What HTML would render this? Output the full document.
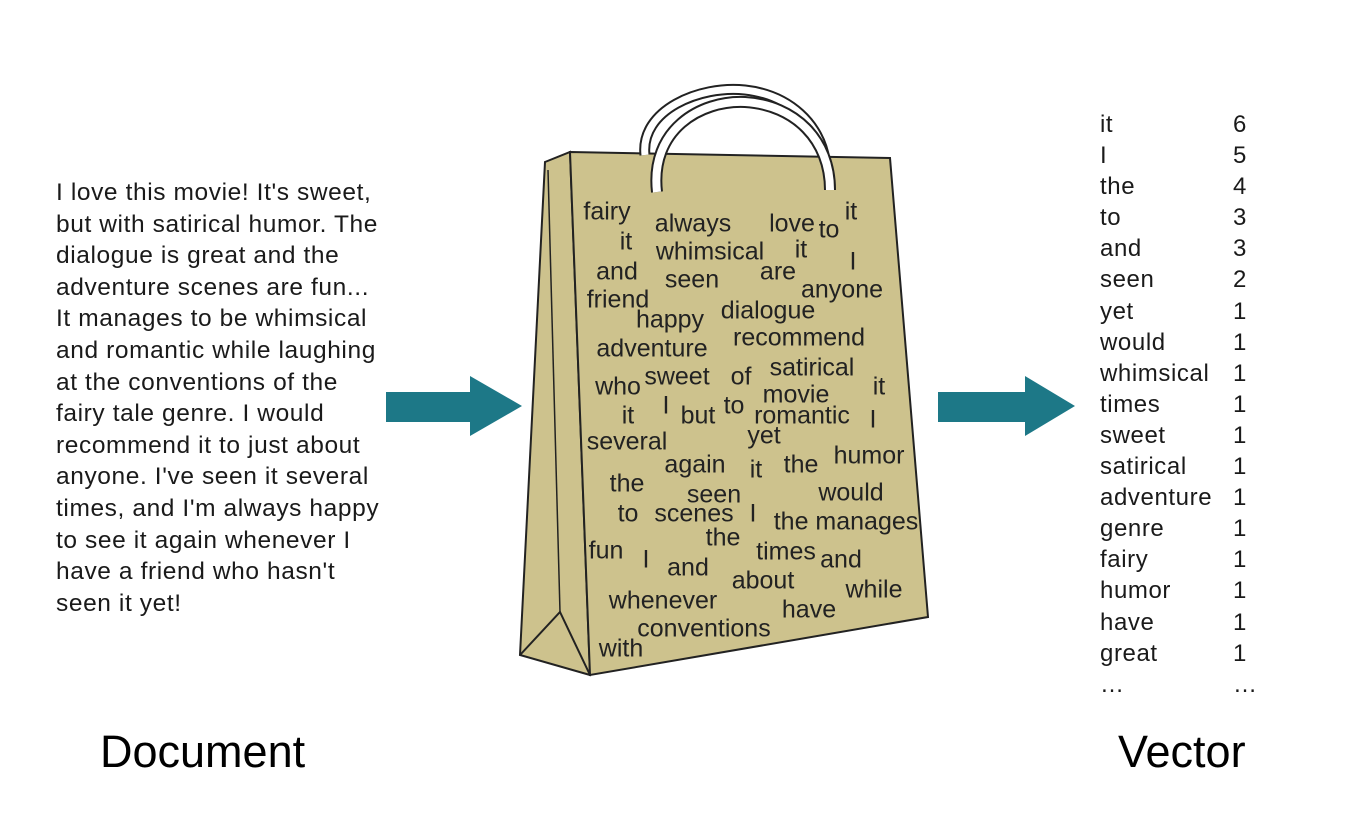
<!DOCTYPE html>
<html><head><meta charset="utf-8"><style>
body{margin:0;width:1348px;height:814px;background:#fff;position:relative;overflow:hidden;font-family:"Liberation Sans",Arial,sans-serif;color:#1a1a1a}
.doc{position:absolute;left:56px;top:177px;font-size:24.5px;letter-spacing:0.6px;line-height:31.6px;white-space:pre}
.w{position:absolute;font-size:25px;transform:translate(-50%,-50%);white-space:nowrap;color:#222;line-height:1}
.v{position:absolute;font-size:24px;letter-spacing:0.6px;line-height:31.1px}
.big{position:absolute;font-size:45px;color:#000}
</style></head><body>
<div class="doc">I love this movie! It's sweet,
but with satirical humor. The
dialogue is great and the
adventure scenes are fun...
It manages to be whimsical
and romantic while laughing
at the conventions of the
fairy tale genre. I would
recommend it to just about
anyone. I've seen it several
times, and I'm always happy
to see it again whenever I
have a friend who hasn't
seen it yet!</div>
<svg width="1348" height="814" style="position:absolute;left:0;top:0">
<polygon points="386,392 470,392 470,376 522,406 470,436 470,422 386,422" fill="#1d7887"/>
<polygon points="938,392 1025,392 1025,376 1075,406 1025,436 1025,422 938,422" fill="#1d7887"/>
<polygon points="545,162 570,152 590,675 520,655" fill="#cdc28d" stroke="#222" stroke-width="2"/>
<polyline points="520,655 560,612 590,675" fill="none" stroke="#222" stroke-width="2"/>
<line x1="560" y1="612" x2="548" y2="170" stroke="#222" stroke-width="1.5"/>
<polygon points="570,152 890,158 928,617 590,675" fill="#cdc28d" stroke="#222" stroke-width="2"/>
<path d="M645,155 C640,110 700,85 745,90 C790,95 820,125 825,160" fill="none" stroke="#222" stroke-width="11"/>
<path d="M645,155 C640,110 700,85 745,90 C790,95 820,125 825,160" fill="none" stroke="#fff" stroke-width="7"/>
<path d="M657,192 C650,130 700,100 745,102 C795,105 830,140 830,190" fill="none" stroke="#222" stroke-width="12"/>
<path d="M657,192 C650,130 700,100 745,102 C795,105 830,140 830,190" fill="none" stroke="#fff" stroke-width="8"/>
</svg>
<div class="w" style="left:607px;top:212px">fairy</div>
<div class="w" style="left:693px;top:224px">always</div>
<div class="w" style="left:792px;top:224px">love</div>
<div class="w" style="left:829px;top:230px">to</div>
<div class="w" style="left:851px;top:212px">it</div>
<div class="w" style="left:626px;top:242px">it</div>
<div class="w" style="left:710px;top:252px">whimsical</div>
<div class="w" style="left:801px;top:250px">it</div>
<div class="w" style="left:853px;top:262px">I</div>
<div class="w" style="left:617px;top:272px">and</div>
<div class="w" style="left:692px;top:280px">seen</div>
<div class="w" style="left:778px;top:272px">are</div>
<div class="w" style="left:842px;top:290px">anyone</div>
<div class="w" style="left:618px;top:300px">friend</div>
<div class="w" style="left:670px;top:320px">happy</div>
<div class="w" style="left:768px;top:311px">dialogue</div>
<div class="w" style="left:652px;top:349px">adventure</div>
<div class="w" style="left:799px;top:338px">recommend</div>
<div class="w" style="left:618px;top:387px">who</div>
<div class="w" style="left:677px;top:377px">sweet</div>
<div class="w" style="left:741px;top:377px">of</div>
<div class="w" style="left:812px;top:368px">satirical</div>
<div class="w" style="left:796px;top:395px">movie</div>
<div class="w" style="left:879px;top:387px">it</div>
<div class="w" style="left:628px;top:416px">it</div>
<div class="w" style="left:666px;top:406px">I</div>
<div class="w" style="left:698px;top:416px">but</div>
<div class="w" style="left:734px;top:406px">to</div>
<div class="w" style="left:802px;top:416px">romantic</div>
<div class="w" style="left:873px;top:420px">I</div>
<div class="w" style="left:627px;top:442px">several</div>
<div class="w" style="left:764px;top:436px">yet</div>
<div class="w" style="left:695px;top:465px">again</div>
<div class="w" style="left:756px;top:470px">it</div>
<div class="w" style="left:801px;top:465px">the</div>
<div class="w" style="left:869px;top:456px">humor</div>
<div class="w" style="left:627px;top:484px">the</div>
<div class="w" style="left:714px;top:495px">seen</div>
<div class="w" style="left:851px;top:493px">would</div>
<div class="w" style="left:628px;top:514px">to</div>
<div class="w" style="left:694px;top:514px">scenes</div>
<div class="w" style="left:753px;top:514px">I</div>
<div class="w" style="left:846px;top:522px">the manages</div>
<div class="w" style="left:723px;top:538px">the</div>
<div class="w" style="left:606px;top:551px">fun</div>
<div class="w" style="left:646px;top:560px">I</div>
<div class="w" style="left:786px;top:552px">times</div>
<div class="w" style="left:841px;top:560px">and</div>
<div class="w" style="left:688px;top:568px">and</div>
<div class="w" style="left:763px;top:581px">about</div>
<div class="w" style="left:874px;top:590px">while</div>
<div class="w" style="left:663px;top:601px">whenever</div>
<div class="w" style="left:809px;top:610px">have</div>
<div class="w" style="left:704px;top:629px">conventions</div>
<div class="w" style="left:621px;top:649px">with</div>
<div class="v" style="left:1100px;top:109px">it<br>I<br>the<br>to<br>and<br>seen<br>yet<br>would<br>whimsical<br>times<br>sweet<br>satirical<br>adventure<br>genre<br>fairy<br>humor<br>have<br>great<br>…</div>
<div class="v" style="left:1233px;top:109px">6<br>5<br>4<br>3<br>3<br>2<br>1<br>1<br>1<br>1<br>1<br>1<br>1<br>1<br>1<br>1<br>1<br>1<br>…</div>
<div class="big" style="left:100px;top:726px">Document</div>
<div class="big" style="left:1118px;top:726px">Vector</div>
</body></html>
